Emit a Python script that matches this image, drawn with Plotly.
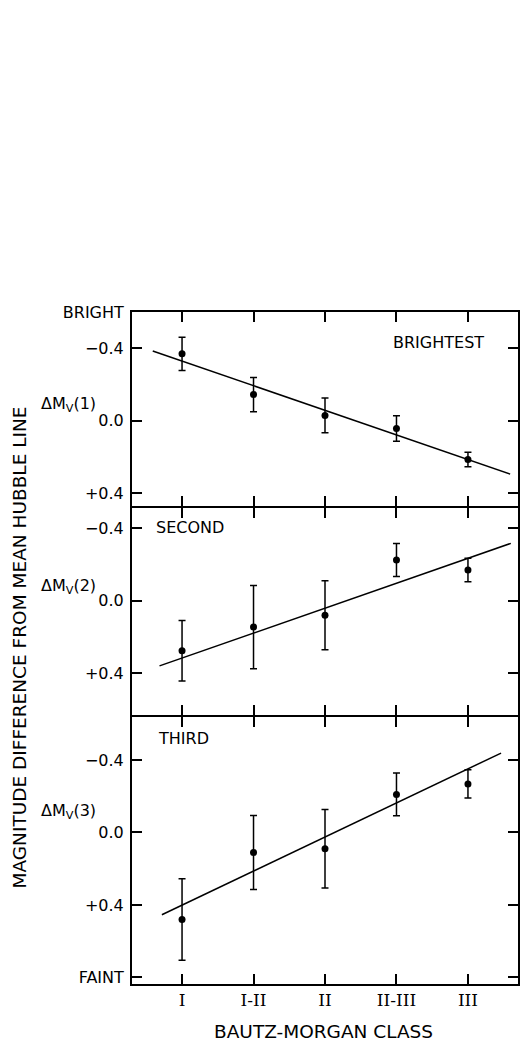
import plotly.graph_objects as go

# ---- data ----
classes = ["I", "I-II", "II", "II-III", "III"]
class_pos = [1, 2, 3, 4, 5]

brightest = [-0.37, -0.145, -0.03, 0.042, 0.213]
brightest_err = [0.092, 0.094, 0.096, 0.07, 0.04]

second = [0.275, 0.145, 0.08, -0.225, -0.17]
second_err = [0.167, 0.23, 0.19, 0.091, 0.065]

third = [0.48, 0.11, 0.09, -0.21, -0.268]
third_err = [0.225, 0.204, 0.216, 0.118, 0.078]

fit1_x = [0.59, 5.59]
fit1_y = [-0.386, 0.294]
fit2_x = [0.685, 5.60]
fit2_y = [0.359, -0.317]
fit3_x = [0.718, 5.463]
fit3_y = [0.454, -0.438]

panel_names = ["BRIGHTEST", "SECOND", "THIRD"]
ytick_vals1 = [-0.6, -0.4, 0.0, 0.4]
ytick_text1 = ["BRIGHT", "\u22120.4", "0.0", "+0.4"]
ytick_vals2 = [-0.4, 0.0, 0.4]
ytick_text2 = ["\u22120.4", "0.0", "+0.4"]
ytick_vals3 = [-0.4, 0.0, 0.4, 0.8]
ytick_text3 = ["\u22120.4", "0.0", "+0.4", "FAINT"]

SANS = "DejaVu Sans"
SERIF = "DejaVu Serif"

fig = go.Figure()

series = [(brightest, brightest_err, fit1_x, fit1_y),
          (second, second_err, fit2_x, fit2_y),
          (third, third_err, fit3_x, fit3_y)]

for i, (vals, errs, fx, fy) in enumerate(series):
    sfx = "" if i == 0 else str(i + 1)
    fig.add_trace(go.Scatter(
        x=fx, y=fy, mode="lines",
        line=dict(color="black", width=1.5),
        xaxis="x" + sfx, yaxis="y" + sfx, showlegend=False, hoverinfo="skip"))
    fig.add_trace(go.Scatter(
        x=class_pos, y=vals, mode="markers",
        marker=dict(color="black", size=7),
        error_y=dict(type="data", array=errs, visible=True,
                     color="black", thickness=1.5, width=3.5),
        xaxis="x" + sfx, yaxis="y" + sfx, showlegend=False))

domains = [[0.71131, 1.0], [0.40030, 0.70833], [0.0, 0.39732]]
yranges = [[0.470, -0.601], [0.630, -0.512], [0.836, -0.637]]
ytv = [ytick_vals1, ytick_vals2, ytick_vals3]
ytt = [ytick_text1, ytick_text2, ytick_text3]

layout = dict(
    width=521, height=1042,
    margin=dict(l=132, r=1, t=312, b=58),
    paper_bgcolor="white", plot_bgcolor="white",
    font=dict(family=SANS, size=16, color="black"),
)

for i in range(3):
    sfx = "" if i == 0 else str(i + 1)
    layout["xaxis" + sfx] = dict(
        domain=[0, 1], anchor="y" + sfx, range=[0.3, 5.7],
        tickvals=class_pos, ticktext=classes,
        ticks="inside", ticklen=10, tickwidth=1.5, tickcolor="black",
        showline=True, linecolor="black", linewidth=2, mirror="ticks",
        showgrid=False, zeroline=False,
        showticklabels=(i == 2),
        tickfont=dict(family=SERIF, size=17, color="black"),
        ticklabelstandoff=0,
    )
    layout["yaxis" + sfx] = dict(
        domain=domains[i], anchor="x" + sfx, range=yranges[i],
        tickvals=ytv[i], ticktext=ytt[i],
        ticks="inside", ticklen=10, tickwidth=1.5, tickcolor="black",
        showline=True, linecolor="black", linewidth=2, mirror="ticks",
        showgrid=False, zeroline=False,
        tickfont=dict(family=SANS, size=16, color="black"),
        ticklabelstandoff=3,
    )

fig.update_layout(**layout)

annots = []
# Delta M labels
dm_y = [0.863, 0.591, 0.256]
for i in range(3):
    annots.append(dict(
        text="\u0394M<sub>V</sub>(%d)" % (i + 1),
        xref="paper", yref="paper", x=-0.088, y=dm_y[i],
        xanchor="right", yanchor="middle", showarrow=False,
        font=dict(family=SANS, size=16, color="black")))

# panel names
annots.append(dict(text=panel_names[0], xref="paper", yref="paper",
                   x=0.671, y=0.955, xanchor="left", yanchor="middle",
                   showarrow=False, font=dict(family=SANS, size=16)))
annots.append(dict(text=panel_names[1], xref="paper", yref="paper",
                   x=0.057, y=0.680, xanchor="left", yanchor="middle",
                   showarrow=False, font=dict(family=SANS, size=16)))
annots.append(dict(text=panel_names[2], xref="paper", yref="paper",
                   x=0.062, y=0.365, xanchor="left", yanchor="middle",
                   showarrow=False, font=dict(family=SANS, size=16)))

# axis titles
annots.append(dict(text="MAGNITUDE DIFFERENCE FROM MEAN HUBBLE LINE",
                   xref="paper", yref="paper", x=-0.294, y=0.50,
                   xanchor="center", yanchor="middle", textangle=-90,
                   showarrow=False, font=dict(family=SANS, size=18.5)))
annots.append(dict(text="BAUTZ-MORGAN CLASS",
                   xref="paper", yref="paper", x=0.495, y=-0.0714,
                   xanchor="center", yanchor="middle",
                   showarrow=False, font=dict(family=SANS, size=18.5)))

fig.update_layout(annotations=annots)

fig.write_html("out.html")
